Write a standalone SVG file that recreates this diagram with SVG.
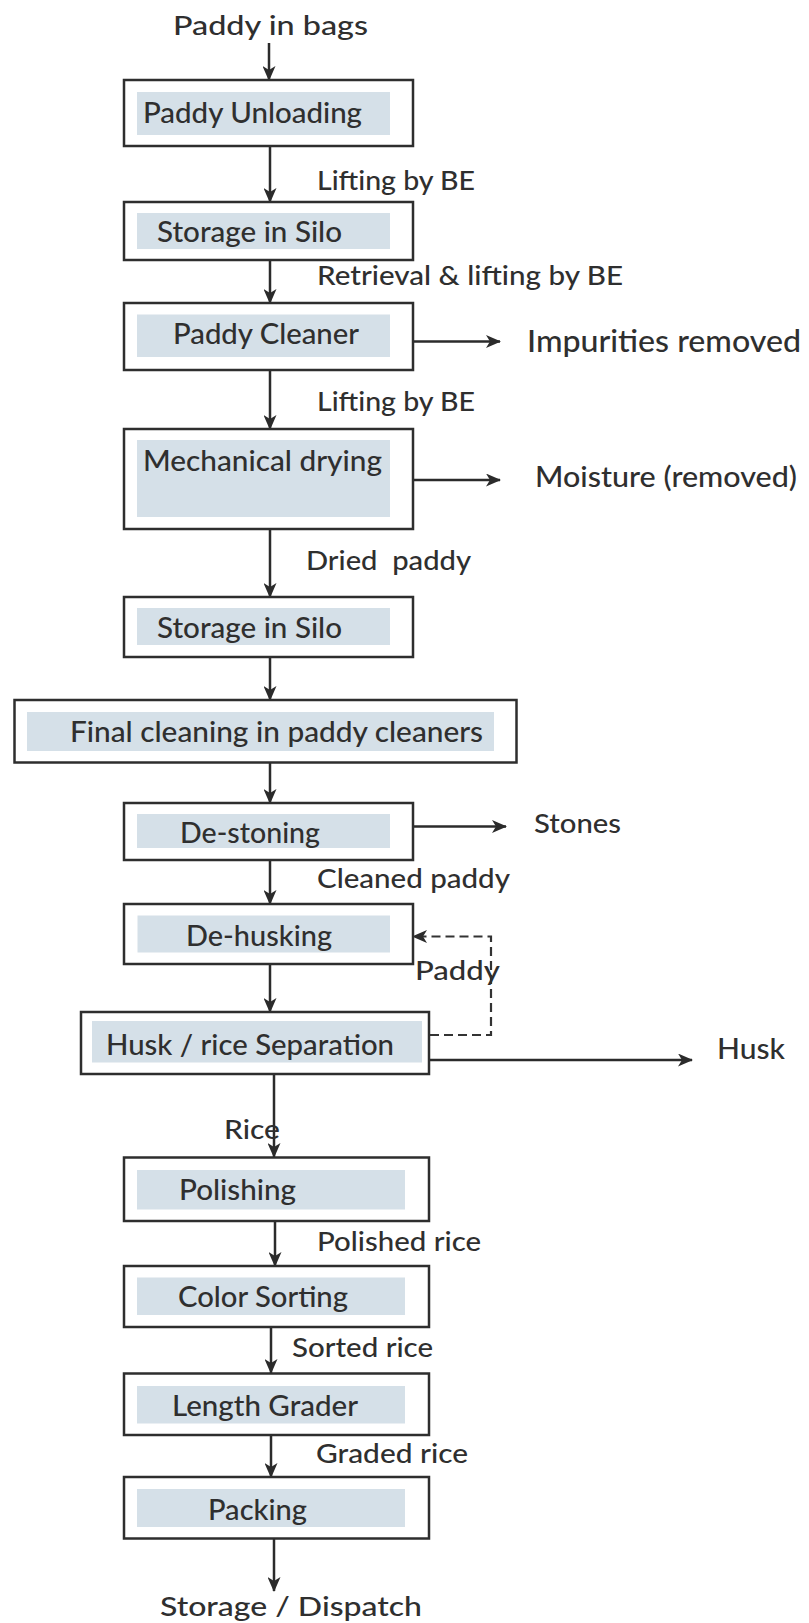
<svg xmlns="http://www.w3.org/2000/svg" width="809" height="1623" viewBox="0 0 809 1623">
<defs>
<style>
.box{fill:#ffffff;stroke:#2e2e2e;stroke-width:2.5}
.in{fill:#d5e0e8;stroke:none}
.t{font-family:Lato,"Open Sans","Liberation Sans",sans-serif;font-weight:500;fill:#2f2f2f;font-size:29px}
.s{font-size:26px}
.m{font-size:27px}
.l{font-size:30px}
.c{stroke:#2b2b2b;stroke-width:2.5;fill:none;marker-end:url(#ah)}
.d{stroke:#333333;stroke-width:2.2;fill:none;stroke-dasharray:9 5;marker-end:url(#ah)}
</style>
<marker id="ah" viewBox="0 0 15 13" refX="14" refY="6.5" markerWidth="15" markerHeight="13" markerUnits="userSpaceOnUse" orient="auto">
<path d="M0,0 L15,6.5 L0,13 L4,6.5 z" fill="#2b2b2b"/>
</marker>
</defs>
<rect width="809" height="1623" fill="#ffffff"/>

<g id="connectors">
<line class="c" x1="269" y1="43" x2="269" y2="80"/>
<line class="c" x1="270" y1="146" x2="270" y2="202"/>
<line class="c" x1="270" y1="260" x2="270" y2="303"/>
<line class="c" x1="270" y1="370" x2="270" y2="429"/>
<line class="c" x1="270" y1="529" x2="270" y2="597"/>
<line class="c" x1="270" y1="657" x2="270" y2="700"/>
<line class="c" x1="270" y1="763" x2="270" y2="803"/>
<line class="c" x1="270" y1="860" x2="270" y2="904"/>
<line class="c" x1="270" y1="964" x2="270" y2="1012"/>
<line class="c" x1="274" y1="1074" x2="274" y2="1157"/>
<line class="c" x1="275" y1="1221" x2="275" y2="1266"/>
<line class="c" x1="271" y1="1327" x2="271" y2="1373"/>
<line class="c" x1="271" y1="1435" x2="271" y2="1477"/>
<line class="c" x1="274" y1="1538" x2="274" y2="1591"/>
<line class="c" x1="413" y1="341.5" x2="500" y2="341.5"/>
<line class="c" x1="405" y1="480" x2="500" y2="480"/>
<line class="c" x1="413" y1="826.5" x2="506" y2="826.5"/>
<line class="c" x1="421" y1="1060" x2="692" y2="1060"/>
<path class="d" d="M430,1035 H491 V936.5 H413"/>
</g>

<g id="n-unloading"><rect class="box" x="124" y="80" width="289" height="66"/><rect class="in" x="137" y="92" width="253" height="43"/><text class="t" x="143" y="123" textLength="219" lengthAdjust="spacingAndGlyphs">Paddy Unloading</text></g>
<g id="n-silo1"><rect class="box" x="124" y="202" width="289" height="58"/><rect class="in" x="137" y="213" width="253" height="36"/><text class="t" x="157" y="242" textLength="185" lengthAdjust="spacingAndGlyphs">Storage in Silo</text></g>
<g id="n-cleaner"><rect class="box" x="124" y="303" width="289" height="67"/><rect class="in" x="137" y="314.5" width="253" height="42.5"/><text class="t" x="173" y="344" textLength="186" lengthAdjust="spacingAndGlyphs">Paddy Cleaner</text></g>
<g id="n-drying"><rect class="box" x="124" y="429" width="289" height="100"/><rect class="in" x="137" y="440" width="253" height="77"/><text class="t" x="143" y="471" textLength="239" lengthAdjust="spacingAndGlyphs">Mechanical drying</text></g>
<g id="n-silo2"><rect class="box" x="124" y="597" width="289" height="60"/><rect class="in" x="137" y="608" width="253" height="37"/><text class="t" x="157" y="638" textLength="185" lengthAdjust="spacingAndGlyphs">Storage in Silo</text></g>
<g id="n-final"><rect class="box" x="14.5" y="700" width="502" height="62.5"/><rect class="in" x="27" y="712" width="467" height="39"/><text class="t" x="70" y="742" textLength="413" lengthAdjust="spacingAndGlyphs">Final cleaning in paddy cleaners</text></g>
<g id="n-destoning"><rect class="box" x="124" y="803" width="289" height="57"/><rect class="in" x="137" y="814" width="253" height="34"/><text class="t" x="180" y="843" textLength="140" lengthAdjust="spacingAndGlyphs">De-stoning</text></g>
<g id="n-dehusking"><rect class="box" x="124" y="904" width="289" height="60"/><rect class="in" x="137.5" y="915.5" width="252.5" height="37"/><text class="t" x="186" y="946" textLength="146" lengthAdjust="spacingAndGlyphs">De-husking</text></g>
<g id="n-separation"><rect class="box" x="81" y="1012" width="348" height="62"/><rect class="in" x="92" y="1021" width="330" height="41.5"/><text class="t" x="106" y="1055" textLength="288" lengthAdjust="spacingAndGlyphs">Husk / rice Separation</text></g>
<g id="n-polishing"><rect class="box" x="124" y="1157.5" width="305" height="63.5"/><rect class="in" x="137" y="1170" width="268" height="39.5"/><text class="t" x="179" y="1200" textLength="117" lengthAdjust="spacingAndGlyphs">Polishing</text></g>
<g id="n-color"><rect class="box" x="124" y="1266" width="305" height="61"/><rect class="in" x="137" y="1277.5" width="268" height="37.5"/><text class="t" x="178" y="1307" textLength="170" lengthAdjust="spacingAndGlyphs">Color Sorting</text></g>
<g id="n-length"><rect class="box" x="124" y="1373.5" width="305" height="61.5"/><rect class="in" x="137" y="1386" width="268" height="37.5"/><text class="t" x="172" y="1416" textLength="186" lengthAdjust="spacingAndGlyphs">Length Grader</text></g>
<g id="n-packing"><rect class="box" x="124" y="1477" width="305" height="61.5"/><rect class="in" x="137" y="1489" width="268" height="38"/><text class="t" x="208" y="1520" textLength="99" lengthAdjust="spacingAndGlyphs">Packing</text></g>

<g id="labels">
<text class="t m" x="173" y="35" textLength="195" lengthAdjust="spacingAndGlyphs">Paddy in bags</text>
<text class="t s" x="317" y="190" textLength="158" lengthAdjust="spacingAndGlyphs">Lifting by BE</text>
<text class="t s" x="317" y="285" textLength="306" lengthAdjust="spacingAndGlyphs">Retrieval &amp; lifting by BE</text>
<text class="t l" x="527" y="352" textLength="274" lengthAdjust="spacingAndGlyphs">Impurities removed</text>
<text class="t s" x="317" y="411" textLength="158" lengthAdjust="spacingAndGlyphs">Lifting by BE</text>
<text class="t" x="535" y="487" textLength="262" lengthAdjust="spacingAndGlyphs">Moisture (removed)</text>
<text class="t s" x="306" y="570" textLength="165" lengthAdjust="spacingAndGlyphs" style="white-space:pre">Dried  paddy</text>
<text class="t" x="534" y="833" textLength="87" lengthAdjust="spacingAndGlyphs" style="font-size:26px">Stones</text>
<text class="t s" x="317" y="888" textLength="193" lengthAdjust="spacingAndGlyphs">Cleaned paddy</text>
<text class="t" x="415" y="980" textLength="85" lengthAdjust="spacingAndGlyphs" style="font-size:26px">Paddy</text>
<text class="t" x="717" y="1059" textLength="68" lengthAdjust="spacingAndGlyphs" style="font-size:29px">Husk</text>
<text class="t" x="224" y="1139" textLength="56" lengthAdjust="spacingAndGlyphs" style="font-size:26px">Rice</text>
<text class="t s" x="317" y="1251" textLength="164" lengthAdjust="spacingAndGlyphs">Polished rice</text>
<text class="t s" x="292" y="1357" textLength="141" lengthAdjust="spacingAndGlyphs">Sorted rice</text>
<text class="t s" x="316" y="1463" textLength="152" lengthAdjust="spacingAndGlyphs">Graded rice</text>
<text class="t m" x="160" y="1616" textLength="262" lengthAdjust="spacingAndGlyphs">Storage / Dispatch</text>
</g>
</svg>
